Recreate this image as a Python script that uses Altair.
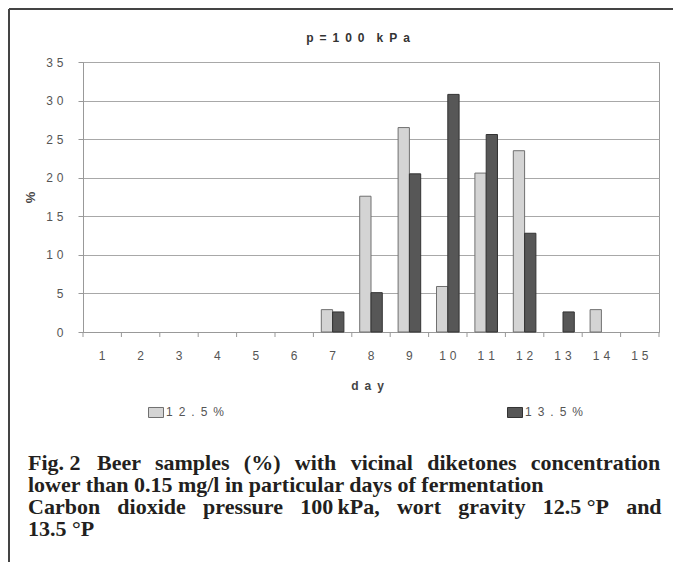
import altair as alt
import pandas as pd

# ---- data ----
days = [str(d) for d in range(1, 16)]
series = ["12.5%", "13.5%"]
vals_125 = [0, 0, 0, 0, 0, 0, 2.9, 17.6, 26.5, 5.9, 20.6, 23.5, 0, 2.9, 0]
vals_135 = [0, 0, 0, 0, 0, 0, 2.6, 5.1, 20.5, 30.8, 25.6, 12.8, 2.6, 0, 0]
y_ticks = [0, 5, 10, 15, 20, 25, 30, 35]
chart_title = "p = 100 kPa"
x_title = "day"
y_title = "%"

EN = "\u2002"      # wide letter spacing (title, axis title, legend)
TPM = "\u2004"     # narrower letter spacing (tick labels)
TH = "\u2009"
HR = "\u200a"
G1 = " " + TH + TH          # justified gap, line 1
G3 = EN + TH + HR           # justified gap, line 3
caption_lines = [
    "Fig. 2 " + EN + "Beer" + G1 + "samples" + G1 + "(%)" + G1 + "with" + G1 + "vicinal"
    + G1 + "diketones" + G1 + "concentration",
    "lower than 0.15 mg/l in particular days of fermentation",
    "Carbon" + G3 + "dioxide" + G3 + "pressure" + G3 + "100" + TH + "kPa," + G3 + "wort"
    + G3 + "gravity" + G3 + "12.5 °P" + G3 + "and",
    "13.5 °P",
]

rows = []
for d, a, b in zip(days, vals_125, vals_135):
    rows.append({"day": d, "series": series[0], "value": a})
    rows.append({"day": d, "series": series[1], "value": b})
df = pd.DataFrame(rows)
days_df = pd.DataFrame({"day": days})
one = pd.DataFrame({"k": [0]})

W, H = 576, 270
spread_ticks = "join(split(datum.label, ''), '" + TPM + "')"
spread_legend = "join(split(datum.label, ''), '" + EN + "')"

x_scale = alt.Scale(domain=days, paddingInner=0, paddingOuter=0)
x_axis = alt.Axis(
    title=EN.join(x_title), ticks=False, labelPadding=18, labelAngle=0,
    labelFontSize=12, labelColor="#555555", labelExpr=spread_ticks,
    domainColor="#999999", titleFontSize=12, titleFontWeight="bold",
    titleColor="#444444", titleX=284, titleY=53, titleBaseline="middle",
    titleAlign="center",
)

bars = alt.Chart(df).transform_filter("datum.value > 0").mark_bar(strokeWidth=1).encode(
    x=alt.X("day:O", scale=x_scale, axis=x_axis, sort=days),
    xOffset=alt.XOffset("series:N", scale=alt.Scale(domain=series, paddingInner=0, paddingOuter=0.7)),
    y=alt.Y(
        "value:Q",
        scale=alt.Scale(domain=[0, 35], nice=False),
        axis=alt.Axis(
            values=y_ticks, title=y_title, grid=True, gridColor="#a8a8a8",
            domainColor="#999999", tickColor="#999999", tickSize=5,
            labelPadding=15, labelFontSize=12, labelColor="#555555",
            labelExpr=spread_ticks, titleFontSize=13, titleFontWeight="bold",
            titleColor="#444444", titleX=-53, titleY=135, titleAngle=270,
            titleAlign="center", titleBaseline="middle",
        ),
    ),
    fill=alt.Fill(
        "series:N",
        scale=alt.Scale(domain=series, range=["#d4d4d4", "#575757"]),
        legend=alt.Legend(
            title=None, orient="none", legendX=65, legendY=342,
            direction="horizontal", columnPadding=280,
            symbolType="M-1,-0.667H1V0.667H-1Z", symbolSize=225,
            symbolStrokeColor="#666666", symbolStrokeWidth=1,
            labelFontSize=12, labelColor="#555555", labelOffset=2,
            labelExpr=spread_legend,
        ),
    ),
    stroke=alt.Stroke(
        "series:N",
        scale=alt.Scale(domain=series, range=["#707070", "#333333"]),
        legend=None,
    ),
)

ticks = alt.Chart(days_df).mark_rule(color="#999999", strokeWidth=1).encode(
    x=alt.X("day:O", scale=x_scale, axis=x_axis, sort=days, bandPosition=0),
    y=alt.value(H),
    y2=alt.value(H + 5),
)
ticks_end = alt.Chart(days_df).transform_filter("datum.day == '15'").mark_rule(
    color="#999999", strokeWidth=1
).encode(
    x=alt.X("day:O", scale=x_scale, axis=x_axis, sort=days, bandPosition=1),
    y=alt.value(H),
    y2=alt.value(H + 5),
)

title_txt = alt.Chart(one).mark_text(
    align="center", baseline="middle", font="Liberation Sans", fontSize=12,
    fontWeight="bold", color="#333333",
).encode(
    x=alt.value(275), y=alt.value(-24),
    text=alt.value(("p" + EN + "=" + EN + EN.join("100") + EN + EN + EN.join("kPa"))),
)

caption = alt.Chart(one).mark_text(
    align="left", baseline="middle", font="Liberation Serif", fontSize=22,
    fontWeight="bold", lineHeight=22, color="#231f20",
).encode(x=alt.value(-55), y=alt.value(401), text=alt.value(caption_lines))

border_left = alt.Chart(one).mark_rule(color="#444444", strokeWidth=2).encode(
    x=alt.value(-74), y=alt.value(-53), y2=alt.value(500)
)
border_top = alt.Chart(one).mark_rule(color="#444444", strokeWidth=2).encode(
    x=alt.value(-74), x2=alt.value(600), y=alt.value(-53)
)

chart = alt.layer(bars, ticks, ticks_end, title_txt, caption, border_left, border_top).properties(
    width=W,
    height=H,
    autosize=alt.AutoSizeParams(type="none"),
    padding={"left": 75, "top": 54, "right": 14, "bottom": 230},
).configure(font="Liberation Sans").configure_view(stroke="#999999")

chart.save("out.html", embed_options={"renderer": "svg", "actions": False})
